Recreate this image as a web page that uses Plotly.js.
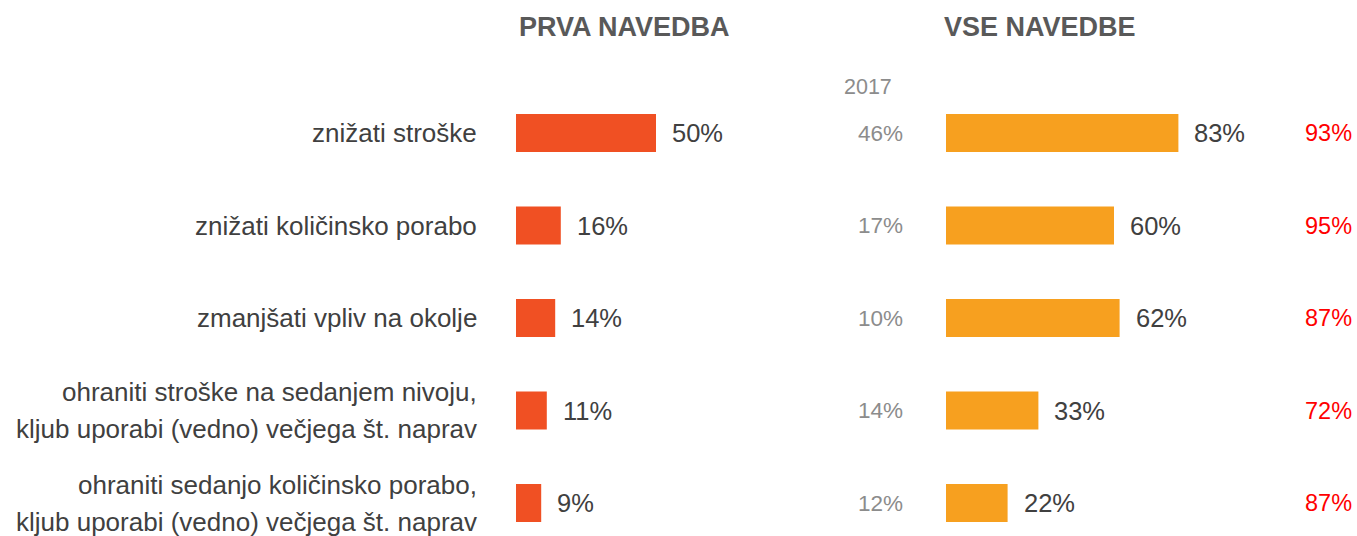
<!DOCTYPE html>
<html><head><meta charset="utf-8">
<script src="https://cdn.plot.ly/plotly-3.0.1.min.js"></script>
<style>html,body{margin:0;padding:0;background:#fff}</style>
</head><body><div id="chart" style="width:1357px;height:536px"></div>
<script>
const categories = [
  'znižati stroške',
  'znižati količinsko porabo',
  'zmanjšati vpliv na okolje',
  'ohraniti stroške na sedanjem nivoju,<br>kljub uporabi (vedno) večjega št. naprav',
  'ohraniti sedanjo količinsko porabo,<br>kljub uporabi (vedno) večjega št. naprav'
];
const firstMention = [50, 16, 14, 11, 9];
const allMentions = [83, 60, 62, 33, 22];
const allMentions2017 = [46, 17, 10, 14, 12];
const redValues = [93, 95, 87, 72, 87];
const panelTitles = ['PRVA NAVEDBA', 'VSE NAVEDBE'];
const yearLabel = '2017';

const W = 1357, H = 536;
const FONT = '"Liberation Sans Narrow", "Arial Narrow", "Liberation Sans", Arial, sans-serif';
const pxPerPct = 2.8;
const leftStart = 516, rightStart = 946;

const traces = [
  {type: 'bar', orientation: 'h', y: categories, x: firstMention, xaxis: 'x', yaxis: 'y',
   marker: {color: '#F05023'}, width: 0.41, hoverinfo: 'skip'},
  {type: 'bar', orientation: 'h', y: categories, x: allMentions, xaxis: 'x2', yaxis: 'y',
   marker: {color: '#F7A01F'}, width: 0.41, hoverinfo: 'skip'}
];

const ann = [];
const pct = v => v + '%';
const LINE = 37;
categories.forEach((c, i) => {
  const lines = c.split('<br>');
  lines.forEach((ln, k) => {
    ann.push({x: 479 / W, xref: 'paper', y: c, yref: 'y', text: ln, xanchor: 'right', align: 'right',
      yshift: ((lines.length - 1) / 2 - k) * LINE,
      showarrow: false, font: {family: FONT, size: 26, color: '#404040'}});
  });
  ann.push({x: firstMention[i], xref: 'x', y: c, yref: 'y', text: pct(firstMention[i]), xanchor: 'left',
    xshift: 14, showarrow: false, font: {family: FONT, size: 25.5, color: '#404040'}});
  ann.push({x: allMentions[i], xref: 'x2', y: c, yref: 'y', text: pct(allMentions[i]), xanchor: 'left',
    xshift: 14, showarrow: false, font: {family: FONT, size: 25.5, color: '#404040'}});
  ann.push({x: 905 / W, xref: 'paper', y: c, yref: 'y', text: pct(allMentions2017[i]), xanchor: 'right',
    showarrow: false, font: {family: FONT, size: 22.5, color: '#8C8C8C'}});
  ann.push({x: 1354 / W, xref: 'paper', y: c, yref: 'y', text: pct(redValues[i]), xanchor: 'right',
    showarrow: false, font: {family: FONT, size: 23.5, color: '#FF0000'}});
});
ann.push({x: 624 / W, xref: 'paper', y: 1 - 27 / H, yref: 'paper', text: '<b>' + panelTitles[0] + '</b>',
  showarrow: false, xanchor: 'center', yanchor: 'middle', font: {family: FONT, size: 27, color: '#595959'}});
ann.push({x: 1040 / W, xref: 'paper', y: 1 - 27 / H, yref: 'paper', text: '<b>' + panelTitles[1] + '</b>',
  showarrow: false, xanchor: 'center', yanchor: 'middle', font: {family: FONT, size: 27, color: '#595959'}});
ann.push({x: 868 / W, xref: 'paper', y: 1 - 87 / H, yref: 'paper', text: yearLabel,
  showarrow: false, xanchor: 'center', yanchor: 'middle', font: {family: FONT, size: 21.5, color: '#8C8C8C'}});

const axisOff = {showgrid: false, zeroline: false, showticklabels: false, showline: false, ticks: '', fixedrange: true};
const layout = {
  width: W, height: H,
  margin: {l: 0, r: 0, t: 0, b: 0, pad: 0},
  paper_bgcolor: '#ffffff', plot_bgcolor: 'rgba(0,0,0,0)',
  showlegend: false,
  xaxis: Object.assign({domain: [leftStart / W, (leftStart + 100 * pxPerPct) / W], range: [0, 100], anchor: 'y'}, axisOff),
  xaxis2: Object.assign({domain: [rightStart / W, (rightStart + 100 * pxPerPct) / W], range: [0, 100], anchor: 'y'}, axisOff),
  yaxis: Object.assign({type: 'category', categoryorder: 'array', categoryarray: categories,
    range: [4.3, -0.5], domain: [(H - 530.75) / H, (H - 86.75) / H]}, axisOff),
  annotations: ann
};
Plotly.newPlot('chart', traces, layout, {displayModeBar: false, staticPlot: true});
</script></body></html>
